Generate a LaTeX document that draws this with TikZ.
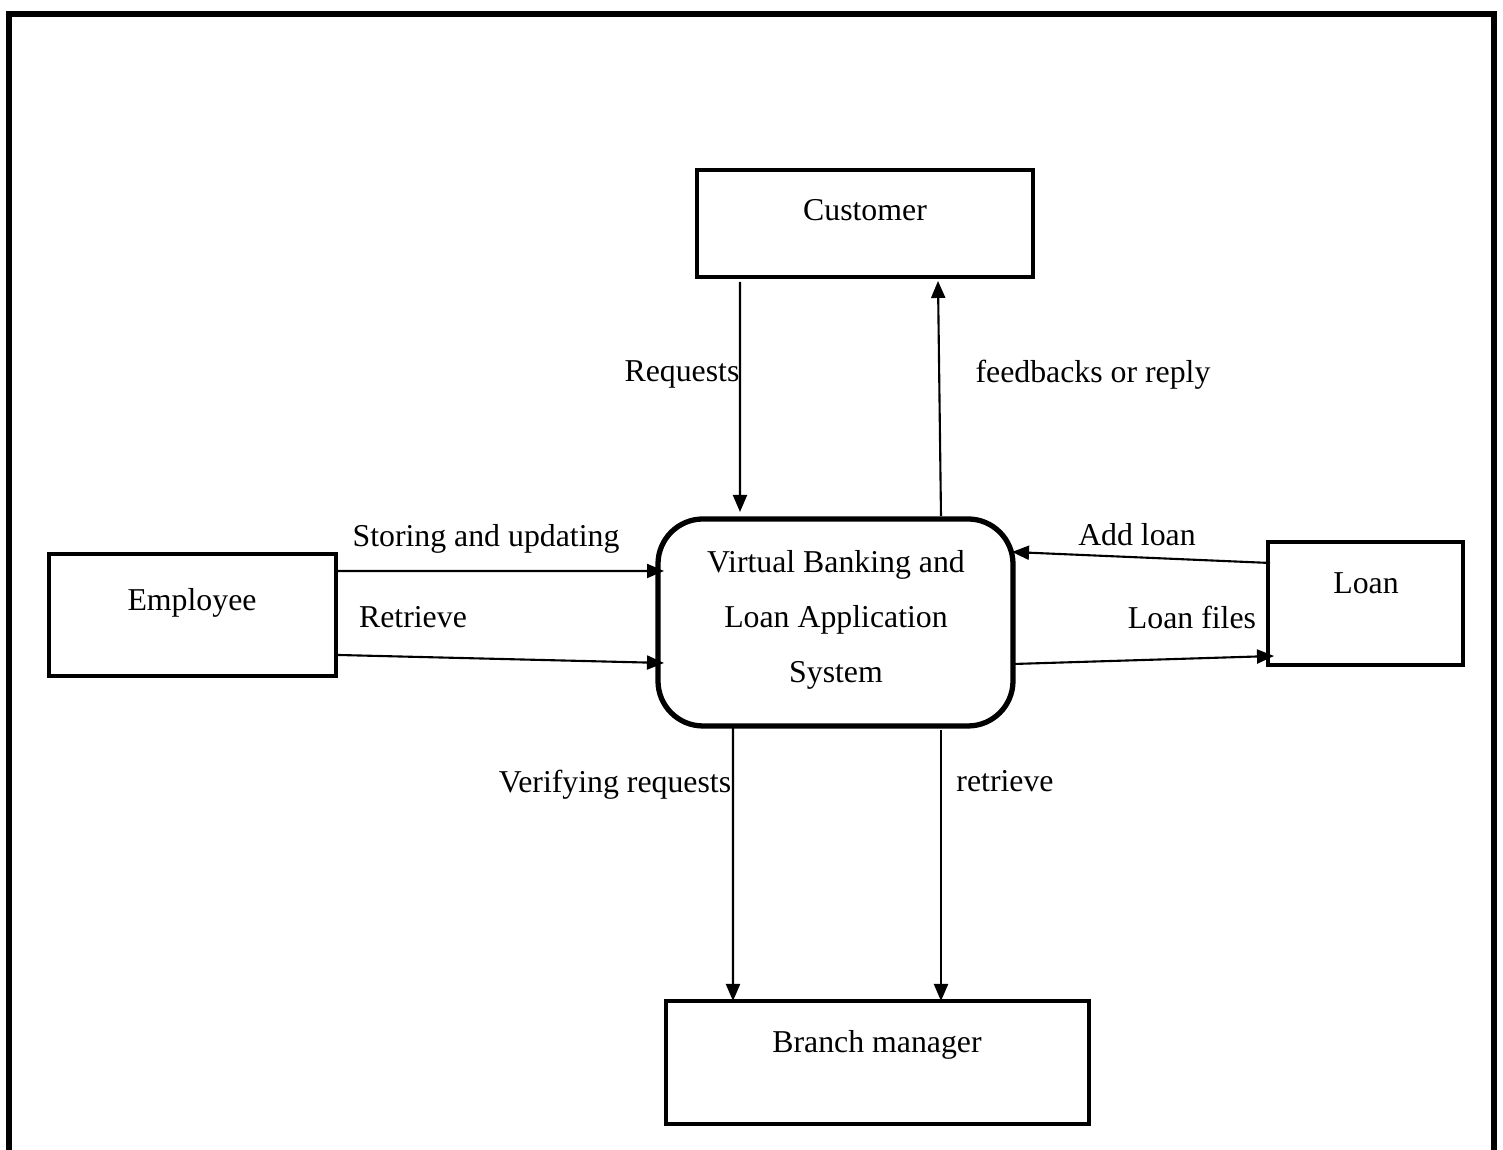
\documentclass[tikz,border=0pt]{standalone}
\usepackage{fontspec}
\setmainfont{Liberation Serif}
\usetikzlibrary{arrows.meta,calc}
\begin{document}
\begin{tikzpicture}[
  every node/.style={font=\fontsize{9.05}{15.6}\selectfont},
  entity/.style={draw, line width=1.2pt, inner sep=0pt, outer sep=0pt},
  process/.style={draw, line width=1.5pt, rounded corners=0.45cm, inner sep=0pt, outer sep=0pt},
  txt/.style={inner sep=0pt},
  flow/.style={line width=0.6pt, -{Triangle[length=0.17cm,width=0.14cm]}}
]
\useasboundingbox (0,0) rectangle (15.03,11.5);
% page frame, open at the bottom
\draw[line width=1.7pt] (0.09,0) -- (0.09,11.36) -- (14.94,11.36) -- (14.94,0);

% external entities and the central process
\node[entity, minimum width=3.36cm, minimum height=1.07cm] (cust) at (8.65,9.265) {};
\node[entity, minimum width=2.87cm, minimum height=1.22cm] (emp) at (1.925,5.35) {};
\node[entity, minimum width=1.95cm, minimum height=1.23cm] (loan) at (13.655,5.465) {};
\node[entity, minimum width=4.23cm, minimum height=1.23cm] (bm) at (8.775,0.875) {};
\node[process, minimum width=3.55cm, minimum height=2.07cm] (sys) at (8.355,5.275) {};

\node[txt] (custT) at (8.65,9.40) {Customer};
\node[txt] (empT) at (1.92,5.47) {Employee};
\node[txt] (loanT) at (13.66,5.67) {Loan};
\node[txt] (bmT) at (8.77,1.05) {Branch manager};
\node[txt, align=center] (sysT) at (8.36,5.30) {Virtual Banking and\\Loan Application\\System};

% data flows
\draw[flow] ($(cust.south west)+(0.43,-0.05)$) -- ($(sys.north west)+(0.82,0.07)$);
\draw[flow] ($(sys.north west)+(2.83,0.03)$) -- ($(cust.south west)+(2.41,-0.04)$);
\draw[flow] ($(emp.north east)+(0.02,-0.17)$) -- ($(sys.north west)+(0.06,-0.52)$);
\draw[flow] ($(emp.north east)+(0.02,-1.01)$) -- ($(sys.north west)+(0.06,-1.44)$);
\draw[flow] ($(loan.north west)+(0.02,-0.21)$) -- ($(sys.north east)+(-0.01,-0.33)$);
\draw[flow] ($(sys.north east)+(0.01,-1.45)$) -- ($(loan.north west)+(0.06,-1.14)$);
\draw[flow] ($(sys.south west)+(0.75,-0.02)$) -- ($(bm.north west)+(0.67,0)$);
\draw[flow] ($(sys.south west)+(2.83,-0.04)$) -- ($(bm.north west)+(2.75,0)$);

% flow labels
\node[txt] (lReq) at (6.82,7.75) {Requests};
\node[txt] (lFb) at (10.93,7.75) {feedbacks or reply};
\node[txt] (lSt) at (4.86,6.11) {Storing and updating};
\node[txt] (lRe) at (4.13,5.33) {Retrieve};
\node[txt] (lAdd) at (11.37,6.15) {Add loan};
\node[txt] (lLf) at (11.92,5.33) {Loan files};
\node[txt] (lVer) at (6.15,3.65) {Verifying requests};
\node[txt] (lRet) at (10.05,3.69) {retrieve};
\end{tikzpicture}
\end{document}
